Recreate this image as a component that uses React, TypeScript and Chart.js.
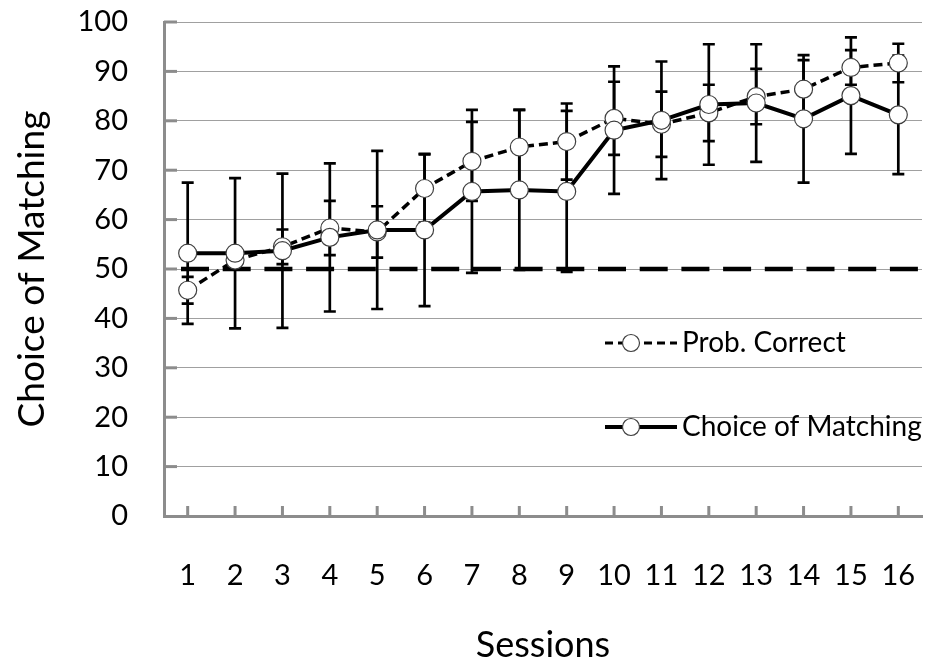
import React, { useEffect, useRef } from "react";
import { Chart, registerables } from "chart.js";

Chart.register(...registerables);

const sessions = ["1", "2", "3", "4", "5", "6", "7", "8", "9", "10", "11", "12", "13", "14", "15", "16"];
const probCorrect = [45.7, 51.8, 54.5, 58.3, 57.5, 66.3, 71.8, 74.7, 75.8, 80.5, 79.3, 81.6, 84.9, 86.4, 90.8, 91.7];
const probCorrectErr = [2.7, 1.5, 3.5, 5.5, 5.2, 6.9, 8.0, 7.5, 7.7, 7.4, 6.6, 5.7, 5.6, 5.9, 3.5, 3.9];
const choiceMatching = [53.2, 53.2, 53.7, 56.4, 57.9, 57.9, 65.7, 66.0, 65.7, 78.1, 80.1, 83.3, 83.6, 80.4, 85.1, 81.2];
const choiceMatchingErr = [14.3, 15.2, 15.6, 15.0, 16.0, 15.4, 16.5, 16.2, 16.3, 12.9, 11.9, 12.2, 11.9, 12.9, 11.8, 12.0];
const chanceLevel = 50;
const yMin = 0;
const yMax = 100;
const yStep = 10;
const legendLabels = ["Prob. Correct", "Choice of Matching"];

const FONT = "Lato";
const AXIS_GREY = "#8c8c8c";

const decorPlugin = {
  id: "decor",
  beforeDatasetsDraw(chart: any) {
    const { ctx, chartArea, scales } = chart;
    const x = scales.x;
    const y = scales.y;
    ctx.save();
    // inner tick marks
    ctx.strokeStyle = AXIS_GREY;
    ctx.lineWidth = 3;
    sessions.forEach((_, i) => {
      const px = x.getPixelForValue(i);
      ctx.beginPath();
      ctx.moveTo(px, chartArea.bottom);
      ctx.lineTo(px, chartArea.bottom - 10);
      ctx.stroke();
    });
    for (let v = yMin + yStep; v <= yMax; v += yStep) {
      const py = y.getPixelForValue(v);
      ctx.beginPath();
      ctx.moveTo(chartArea.left, py);
      ctx.lineTo(chartArea.left + 13, py);
      ctx.stroke();
    }
    // chance line
    const cy = y.getPixelForValue(chanceLevel);
    ctx.strokeStyle = "#000";
    ctx.lineWidth = 4.5;
    ctx.setLineDash([28, 13.7]);
    ctx.beginPath();
    ctx.moveTo(chartArea.left + 17, cy);
    ctx.lineTo(chartArea.right - 3, cy);
    ctx.stroke();
    ctx.setLineDash([]);
    // error bars
    ctx.strokeStyle = "#000";
    ctx.lineWidth = 2.7;
    chart.data.datasets.forEach((ds: any, i: number) => {
      const meta = chart.getDatasetMeta(i);
      meta.data.forEach((pt: any, j: number) => {
        const v = ds.data[j];
        const e = ds.errors[j];
        const yt = y.getPixelForValue(v + e);
        const yb = y.getPixelForValue(v - e);
        ctx.beginPath();
        ctx.moveTo(pt.x, yt);
        ctx.lineTo(pt.x, yb);
        ctx.moveTo(pt.x - 6, yt);
        ctx.lineTo(pt.x + 6, yt);
        ctx.moveTo(pt.x - 6, yb);
        ctx.lineTo(pt.x + 6, yb);
        ctx.stroke();
      });
    });
    ctx.restore();
  },
  afterDraw(chart: any) {
    const { ctx } = chart;
    ctx.save();
    const entries = [
      { label: legendLabels[0], y: 343, dash: [8, 5], width: 3.2 },
      { label: legendLabels[1], y: 427, dash: [], width: 3.8 },
    ];
    entries.forEach((en) => {
      ctx.strokeStyle = "#000";
      ctx.lineWidth = en.width;
      ctx.setLineDash(en.dash);
      ctx.beginPath();
      ctx.moveTo(605, en.y);
      ctx.lineTo(677, en.y);
      ctx.stroke();
      ctx.setLineDash([]);
      ctx.beginPath();
      ctx.arc(631, en.y, 8.5, 0, Math.PI * 2);
      ctx.fillStyle = "#fff";
      ctx.fill();
      ctx.strokeStyle = "#404040";
      ctx.lineWidth = 1.2;
      ctx.stroke();
      ctx.fillStyle = "#000";
      ctx.font = `28px ${FONT}`;
      ctx.textAlign = "left";
      ctx.textBaseline = "middle";
      ctx.fillText(en.label, 682, en.y);
    });
    ctx.restore();
  },
};

export default function App() {
  const canvasRef = useRef<HTMLCanvasElement | null>(null);

  useEffect(() => {
    document.body.style.margin = "0";
    let chart: Chart | null = null;
    let cancelled = false;
    const make = () => {
      if (cancelled || !canvasRef.current) return;
      chart = new Chart(canvasRef.current, {
        type: "line",
        data: {
          labels: sessions,
          datasets: [
            {
              label: legendLabels[0],
              data: probCorrect,
              errors: probCorrectErr,
              borderColor: "#000",
              borderWidth: 3.5,
              borderDash: [9, 5],
              pointRadius: 9,
              pointBackgroundColor: "#fff",
              pointBorderColor: "#404040",
              pointBorderWidth: 1.2,
              tension: 0,
              order: 1,
            } as any,
            {
              label: legendLabels[1],
              data: choiceMatching,
              errors: choiceMatchingErr,
              borderColor: "#000",
              borderWidth: 4,
              pointRadius: 9,
              pointBackgroundColor: "#fff",
              pointBorderColor: "#404040",
              pointBorderWidth: 1.2,
              tension: 0,
              order: 0,
            } as any,
          ],
        },
        options: {
          animation: false,
          responsive: false,
          devicePixelRatio: 1,
          layout: { padding: { top: 22, right: 12, left: 0, bottom: 0 } },
          plugins: { legend: { display: false }, tooltip: { enabled: false } },
          scales: {
            x: {
              type: "category",
              offset: true,
              grid: {
                drawOnChartArea: false,
                drawTicks: true,
                tickLength: 40,
                tickColor: "rgba(0,0,0,0)",
                color: "rgba(0,0,0,0)",
              },
              border: { display: true, color: AXIS_GREY, width: 3 },
              ticks: {
                color: "#000",
                font: { family: FONT, size: 29 },
                padding: 2,
                maxRotation: 0,
                autoSkip: false,
              },
              title: {
                display: true,
                text: "Sessions",
                color: "#000",
                font: { family: FONT, size: 36 },
                padding: { top: 0, bottom: 0 },
              },
              afterFit: (s: any) => {
                s.height = 151;
              },
            },
            y: {
              min: yMin,
              max: yMax,
              ticks: {
                stepSize: yStep,
                color: "#000",
                font: { family: FONT, size: 29 },
                padding: 2,
              },
              grid: {
                color: "#a0a0a0",
                lineWidth: 1,
                drawTicks: true,
                tickLength: 34,
                tickColor: "rgba(0,0,0,0)",
              },
              border: { display: true, color: AXIS_GREY, width: 3 },
              title: {
                display: true,
                text: "Choice of Matching",
                color: "#000",
                font: { family: FONT, size: 37 },
                padding: { top: 10, bottom: 0 },
              },
              afterFit: (s: any) => {
                s.width = 164;
              },
            },
          },
        } as any,
        plugins: [decorPlugin],
      });
    };
    const fontsApi = (document as any).fonts;
    if (fontsApi && fontsApi.load) {
      Promise.all([fontsApi.load(`29px ${FONT}`), fontsApi.load(`36px ${FONT}`)])
        .catch(() => null)
        .then(make);
    } else {
      make();
    }
    return () => {
      cancelled = true;
      if (chart) chart.destroy();
    };
  }, []);

  return (
    <div style={{ width: 934, height: 667, background: "#fff" }}>
      <canvas ref={canvasRef} width={934} height={667} style={{ width: 934, height: 667, display: "block" }} />
    </div>
  );
}
